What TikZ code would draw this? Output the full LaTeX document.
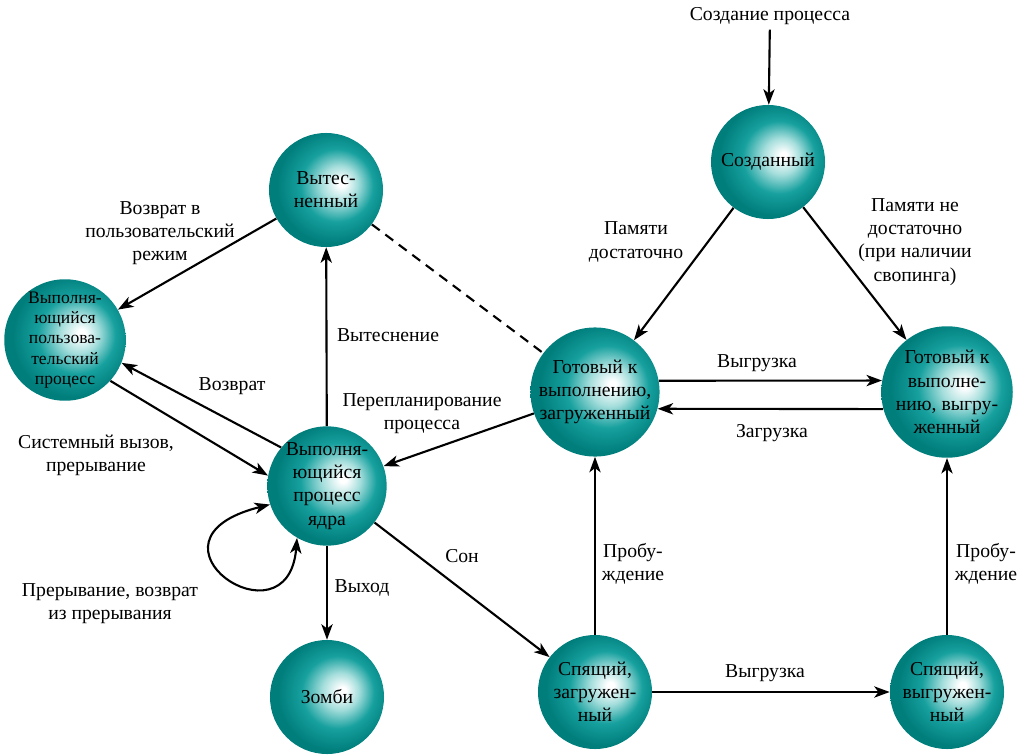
\documentclass[tikz,border=0pt]{standalone}
\usepackage{fontspec}
\setmainfont{Liberation Serif}
\usepackage{tikz}
\usepackage{xcolor}
\usetikzlibrary{arrows.meta, positioning}

\definecolor{tealmid}{RGB}{22,160,158}
\definecolor{tealdark}{RGB}{0,126,124}
\definecolor{teallight}{RGB}{165,222,220}
\pgfdeclareradialshading{stateball}{\pgfpoint{7bp}{3bp}}{%
color(0bp)=(white); color(1.5bp)=(white); color(8bp)=(teallight);
color(16bp)=(tealmid); color(25bp)=(tealdark); color(50bp)=(tealdark)}

\tikzstyle{state} = [circle, 
minimum size=2.85cm, 
inner sep=0pt, 
shading=stateball, 
align=center, 
font=\fontsize{14}{16.5}\selectfont]
\tikzstyle{lbl} = [align=center, 
font=\fontsize{14}{16.5}\selectfont]
\tikzstyle{arrow} = [line width=1.5pt,->,>={Stealth[length=11pt,width=8pt,inset=3pt]}]
\tikzstyle{link} = [line width=1.5pt, dash pattern=on 7pt off 5pt]

\begin{document}
\begin{tikzpicture}[x=0.025cm, y=-0.025cm]
        \useasboundingbox (0,0) rectangle (1029,754);

        % --- Estados ---
        \node (preempted) [state] at (326,190) {Вытес-\\ненный};
        \node (created) [state] at (768,162) {Созданный};
        \node (user) [state, minimum size=3cm, font=\fontsize{12.5}{14.5}\selectfont] at (65,340) {Выполня-\\ющийся\\пользова-\\тельский\\процесс};
        \node (readyL) [state] at (595,392) {Готовый к\\выполнению,\\загруженный};
        \node (readyR) [state] at (947,392) {Готовый к\\выполне-\\нию, выгру-\\женный};
        \node (kernel) [state] at (327,486) {Выполня-\\ющийся\\процесс\\ядра};
        \node (zombie) [state] at (327,697) {Зомби};
        \node (sleepL) [state] at (595,692) {Спящий,\\загружен-\\ный};
        \node (sleepR) [state] at (947,692) {Спящий,\\выгружен-\\ный};

        % --- Textos ---
        \node (creation) [lbl] at (770,16) {Создание процесса};
        \node (l_enough) [lbl] at (636,242) {Памяти\\достаточно};
        \node (l_notenough) [lbl] at (915,242) {Памяти не\\достаточно\\(при наличии\\свопинга)};
        \node (l_swapout1) [lbl] at (757,363) {Выгрузка};
        \node (l_swapin) [lbl] at (772,433) {Загрузка};
        \node (l_resched) [lbl] at (422,414) {Перепланирование\\процесса};
        \node (l_preempt) [lbl] at (388,335) {Вытеснение};
        \node (l_return_user) [lbl] at (160,233) {Возврат в\\пользовательский\\режим};
        \node (l_return) [lbl] at (232,386) {Возврат};
        \node (l_syscall) [lbl] at (96,455) {Системный вызов,\\прерывание};
        \node (l_interrupt) [lbl] at (110,604) {Прерывание, возврат\\из прерывания};
        \node (l_exit) [lbl] at (362,588) {Выход};
        \node (l_sleep) [lbl] at (462,556) {Сон};
        \node (l_wake1) [lbl] at (633,564) {Пробу-\\ждение};
        \node (l_swapout2) [lbl] at (765,673) {Выгрузка};
        \node (l_wake2) [lbl] at (986,564) {Пробу-\\ждение};

        % --- Transiciones ---
        \draw [arrow] (creation) -- (created);
        \draw [arrow] (created) -- (readyL);
        \draw [arrow] (created) -- (readyR);
        \draw [arrow] (readyL.10) -- (readyR.170);
        \draw [arrow] (readyR.195) -- (readyL.-15);
        \draw [arrow] (readyL) -- (kernel);
        \draw [link] (preempted) -- (readyL);
        \draw [arrow] (kernel) -- (preempted);
        \draw [arrow] (preempted) -- (user);
        \draw [arrow] (kernel.140) -- (user.-22);
        \draw [arrow] (user.-42) -- (kernel.170);
        \draw [arrow, <->] (kernel.240) .. controls (288,650) and (128,540) .. (kernel.198);
        \draw [arrow] (kernel) -- (zombie);
        \draw [arrow] (kernel) -- (sleepL);
        \draw [arrow] (sleepL) -- (readyL);
        \draw [arrow] (sleepL) -- (sleepR);
        \draw [arrow] (sleepR) -- (readyR);

    \end{tikzpicture}
\end{document}
